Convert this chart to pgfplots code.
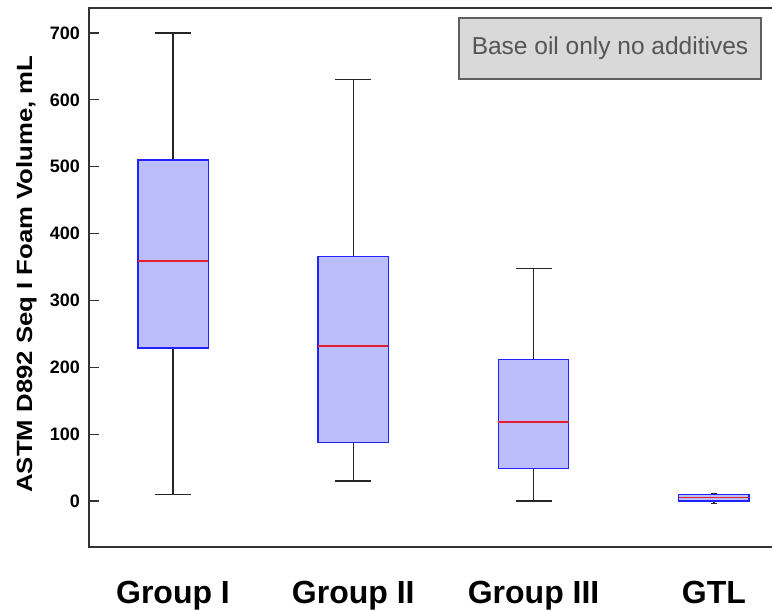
\documentclass[border=0pt]{standalone}
\usepackage{fontspec}
\setmainfont{Liberation Sans}
\newfontfamily\ylabfont[FakeStretch=1.17]{Liberation Sans}
\usepackage{pgfplots}
\pgfplotsset{compat=1.18}
\usepgfplotslibrary{statistics}
\definecolor{boxfill}{RGB}{187,190,250}
\definecolor{boxdraw}{RGB}{35,35,255}
\definecolor{medred}{RGB}{230,30,45}
\definecolor{legfill}{RGB}{217,217,217}
\definecolor{legdraw}{RGB}{95,95,95}
\definecolor{legtext}{RGB}{85,85,85}
\begin{document}
\begin{tikzpicture}
\begin{axis}[name=ax, scale only axis, width=686bp, height=539bp,
  xmin=0.534, xmax=4.339, ymin=-68.8, ymax=737.4,
  boxplot/draw direction=y,
  xtick={1,2,3,4}, xticklabels={Group I, Group II, Group III, GTL},
  x tick style={draw=none},
  ytick={0,100,...,700}, ytick pos=left, tick align=inside, major tick length=10bp,
  y tick style={line width=1.2bp, color=black!80},
  axis line style={line width=1.5bp, color=black!80},
  /pgf/number format/assume math mode=true,
  xticklabel style={font=\bfseries\fontsize{32bp}{36bp}\selectfont, anchor=base, inner sep=0pt, yshift=-56bp},
  yticklabel style={font=\bfseries\fontsize{18bp}{20bp}\selectfont, anchor=east, inner sep=0pt, xshift=-9bp},
  ylabel={ASTM D892 Seq I Foam Volume, mL},
  every axis y label/.style={at={(axis description cs:-0.1064,0.5065)}, rotate=90, anchor=north, inner sep=0pt, font=\ylabfont\bfseries\fontsize{22bp}{24bp}\selectfont},
  boxplot/every box/.style={draw=boxdraw, fill=boxfill, line width=1.3bp},
  boxplot/every median/.style={draw=medred, line width=1.3bp},
  boxplot/every whisker/.style={draw=black!85, line width=1.3bp},
]
\addplot[black!85, line width=1.3bp, boxplot prepared={draw position=1, lower whisker=10, lower quartile=229, median=359, upper quartile=510, upper whisker=700, box extend=0.39, whisker extend=0.2}] coordinates {};
\addplot[black!85, line width=1.3bp, boxplot prepared={draw position=2, lower whisker=30, lower quartile=88, median=232, upper quartile=366, upper whisker=630, box extend=0.39, whisker extend=0.2}] coordinates {};
\addplot[black!85, line width=1.3bp, boxplot prepared={draw position=3, lower whisker=0, lower quartile=49, median=118, upper quartile=212, upper whisker=348, box extend=0.39, whisker extend=0.2}] coordinates {};
\addplot[black!85, line width=1.3bp, boxplot prepared={draw position=4, lower whisker=-4, lower quartile=0, median=5, upper quartile=10, upper whisker=11, box extend=0.39, whisker extend=0.03}] coordinates {};
\end{axis}
\node[draw=legdraw, line width=2bp, fill=legfill, text=legtext, minimum width=302bp, minimum height=61bp, anchor=north east, inner sep=0pt, font=\fontsize{24.5bp}{26bp}\selectfont] at ([xshift=-13bp,yshift=-9bp]ax.north east) {Base oil only no additives};
\pgfresetboundingbox
\path[use as bounding box] ([xshift=-89bp, yshift=-63bp]ax.south west) rectangle ([xshift=-3bp, yshift=8bp]ax.north east);
\end{tikzpicture}
\end{document}
